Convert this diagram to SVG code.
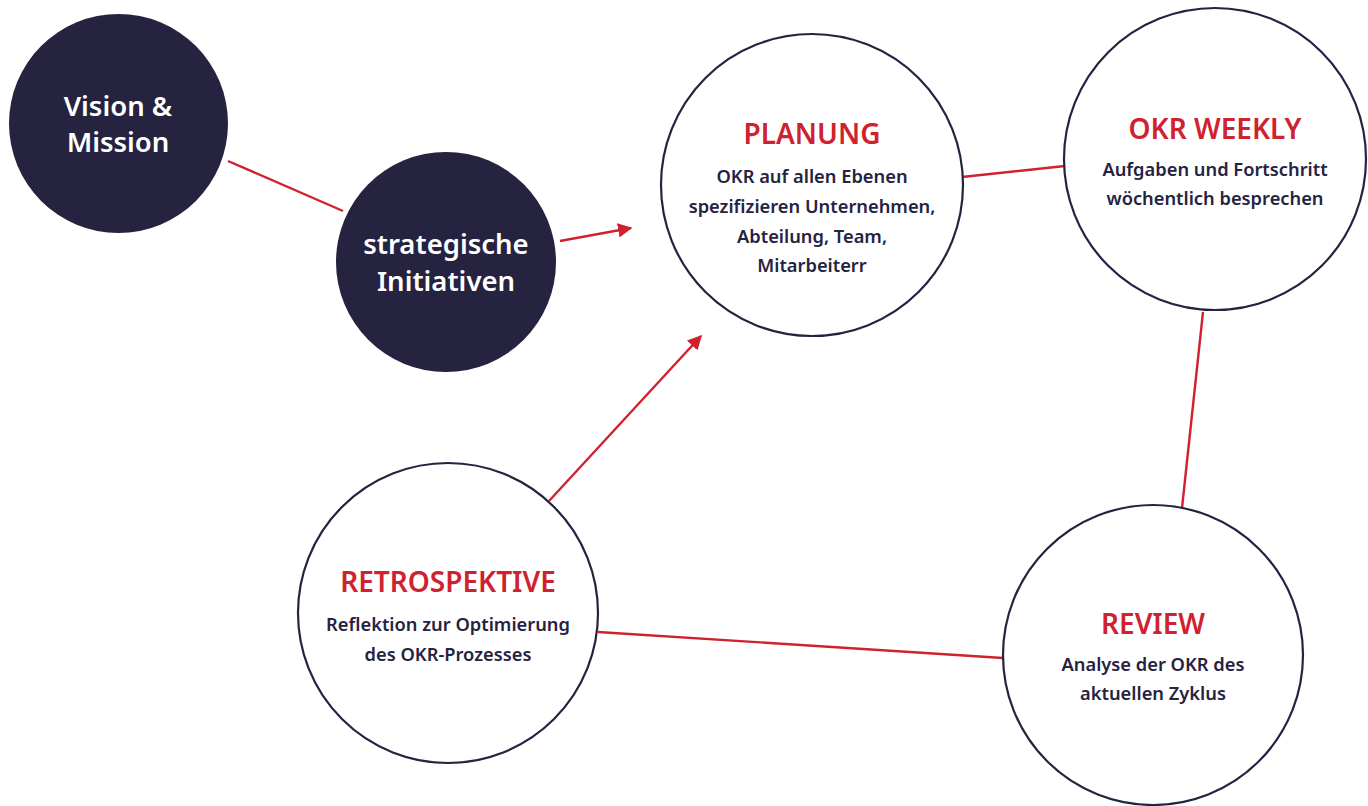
<svg xmlns="http://www.w3.org/2000/svg" width="1368" height="806" viewBox="0 0 1368 806">
<style>
.dark{fill:#25233f}
.ring{fill:#fff;stroke:#25233f;stroke-width:2.2}
.wt{fill:#fff;font-family:"Noto Sans","Open Sans",sans-serif;font-weight:600;font-size:27.5px;text-anchor:middle}
.ti{fill:#d0212f;font-family:"Noto Sans","Open Sans",sans-serif;font-weight:600;font-size:28px;text-anchor:middle}
.bd{fill:#25233f;font-family:"Noto Sans","Open Sans",sans-serif;font-weight:600;font-size:18.3px;text-anchor:middle}
.ln{stroke:#d0212f;stroke-width:2.4;fill:none}
</style>
<defs>
<marker id="ah" viewBox="0 0 10 10" refX="9" refY="5" markerWidth="6" markerHeight="6" orient="auto" markerUnits="strokeWidth">
<path d="M0,0 L10,5 L0,10 z" fill="#d0212f"/>
</marker>
</defs>
<rect width="1368" height="806" fill="#fff"/>
<g id="connectors">
<line class="ln" x1="560" y1="241" x2="631" y2="228" marker-end="url(#ah)"/>
<line class="ln" x1="549" y1="501" x2="701" y2="336" marker-end="url(#ah)"/>
<line class="ln" x1="228" y1="161" x2="343" y2="211"/>
<line class="ln" x1="962" y1="177" x2="1065" y2="166"/>
<line class="ln" x1="1203" y1="312" x2="1182" y2="508"/>
<line class="ln" x1="598" y1="632" x2="1003" y2="658"/>
</g>
<g id="vision">
<circle class="dark" cx="118.5" cy="123.5" r="109.5"/>
<text class="wt" x="118" y="116">Vision &amp;</text>
<text class="wt" x="118" y="152">Mission</text>
</g>
<g id="strategische">
<circle class="dark" cx="446" cy="262" r="110"/>
<text class="wt" x="446" y="254">strategische</text>
<text class="wt" x="446" y="291">Initiativen</text>
</g>
<g id="planung">
<circle class="ring" cx="812" cy="185" r="151"/>
<text class="ti" x="812" y="144">PLANUNG</text>
<text class="bd" x="812" y="183">OKR auf allen Ebenen</text>
<text class="bd" x="812" y="213">spezifizieren Unternehmen,</text>
<text class="bd" x="812" y="243">Abteilung, Team,</text>
<text class="bd" x="812" y="272">Mitarbeiterr</text>
</g>
<g id="okrweekly">
<circle class="ring" cx="1215" cy="159" r="151"/>
<text class="ti" x="1215" y="139">OKR WEEKLY</text>
<text class="bd" x="1215" y="176">Aufgaben und Fortschritt</text>
<text class="bd" x="1215" y="205">wöchentlich besprechen</text>
</g>
<g id="review">
<circle class="ring" cx="1153" cy="655" r="150"/>
<text class="ti" x="1153" y="634">REVIEW</text>
<text class="bd" x="1153" y="671">Analyse der OKR des</text>
<text class="bd" x="1153" y="700">aktuellen Zyklus</text>
</g>
<g id="retrospektive">
<circle class="ring" cx="448" cy="613" r="150"/>
<text class="ti" x="448" y="592">RETROSPEKTIVE</text>
<text class="bd" x="448" y="631">Reflektion zur Optimierung</text>
<text class="bd" x="448" y="661">des OKR-Prozesses</text>
</g>
</svg>
